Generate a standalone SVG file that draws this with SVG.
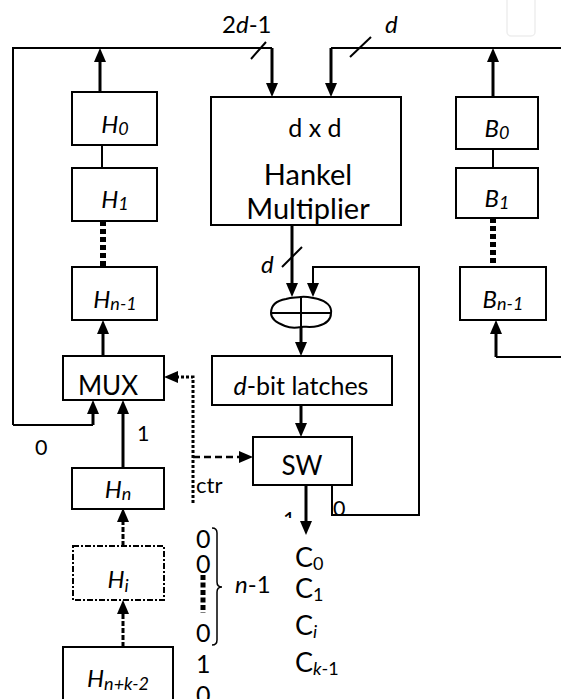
<svg xmlns="http://www.w3.org/2000/svg" width="561" height="699" viewBox="0 0 561 699">
<defs>
<marker id="ah" markerUnits="userSpaceOnUse" markerWidth="14" markerHeight="12" viewBox="0 0 14 12" refX="4" refY="6" orient="auto"><path d="M0,0 L14,6 L0,12 z" fill="#000"/></marker>
<clipPath id="clip1"><rect x="270" y="500" width="40" height="18"/></clipPath>
<clipPath id="clipH"><rect x="212" y="98" width="188" height="126"/></clipPath>
</defs>
<style>
.box{fill:#fff;stroke:#000;stroke-width:2}
.t{font-family:Lato,"Liberation Sans",sans-serif;fill:#000}
.i{font-style:italic}
.c{text-anchor:middle}
.ln{fill:none;stroke:#000;stroke-width:2}
.th{fill:none;stroke:#000;stroke-width:3}
.dot{fill:none;stroke:#000;stroke-width:6;stroke-dasharray:5 3}
.lb{font-size:24px}
.sb{font-size:18px}
</style>
<rect x="507" y="-6" width="28" height="42" rx="4" fill="none" stroke="#eeeeee" stroke-width="1.5"/>
<g id="connectors">
<path class="ln" d="M13,425 L13,48 L272,48"/>
<path class="th" d="M272,48 L272,87" marker-end="url(#ah)"/>
<path class="ln" d="M13,425 L93,425"/>
<path class="th" d="M93,425 L93,410" marker-end="url(#ah)"/>
<path class="ln" d="M331,48 L561,48"/>
<path class="th" d="M331,48 L331,87" marker-end="url(#ah)"/>
<path class="th" d="M100,92 L100,58" marker-end="url(#ah)"/>
<path class="th" d="M493,97 L493,58" marker-end="url(#ah)"/>
<path class="ln" d="M251,59 L266,42"/>
<path class="ln" d="M350,57 L371,37"/>
<path class="ln" d="M102,145 L102,168" stroke-width="1.5"/>
<path class="ln" d="M493,149 L493,168" stroke-width="1.5"/>
<path class="dot" d="M103,221 L103,267"/>
<path class="dot" d="M493,218 L493,267"/>
<path class="th" d="M103,356 L103,330" marker-end="url(#ah)"/>
<path class="th" d="M123,468 L123,410" marker-end="url(#ah)"/>
<path class="th" d="M123,546 L123,518" stroke-width="5" stroke-dasharray="5 2" marker-end="url(#ah)"/>
<path class="th" d="M123,647 L123,610" stroke-width="5" stroke-dasharray="5 2" marker-end="url(#ah)"/>
<path fill="none" stroke="#000" stroke-width="3" stroke-dasharray="3 2" d="M193,503 L193,377 L174,377" marker-end="url(#ah)"/>
<path fill="none" stroke="#000" stroke-width="2.5" stroke-dasharray="7 4" d="M193,457 L243,457" marker-end="url(#ah)"/>
<path class="th" d="M292,225 L292,287" marker-end="url(#ah)"/>
<path class="ln" d="M282,267 L302,247"/>
<path class="ln" d="M332,485 L332,515 L419,515 L419,267 L313,267 L313,287" marker-end="url(#ah)"/>
<path class="th" d="M301,327 L301,346" marker-end="url(#ah)"/>
<path class="th" d="M301,405 L301,427" marker-end="url(#ah)"/>
<path class="th" d="M306,485 L306,525" marker-end="url(#ah)"/>
<path class="ln" d="M561,357 L496,357"/>
<path class="th" d="M496,357 L496,330" marker-end="url(#ah)"/>
<path fill="none" stroke="#000" stroke-width="5" stroke-dasharray="5 2.5" d="M203,575 L203,613"/>
<path fill="none" stroke="#000" stroke-width="1.5" d="M212,528 Q217,528 217,533 L217,582 Q217,587 222,587 Q217,587 217,592 L217,640 Q217,645 212,645"/>
</g>
<g id="adder">
<path fill="#fff" stroke="#000" stroke-width="2" d="M271,313 C271,303 280,300 286,299 C292,297 296,298 301,297 C306,296 312,298 318,299 C326,301 332,306 331,313 C331,320 326,324 318,326 C310,328 304,326 301,327 C296,328 290,328 285,326 C277,323 271,319 271,313 Z"/>
<path class="ln" d="M271,313 L331,313 M301,297 L301,327"/>
</g>
<g id="H0"><rect class="box" x="72" y="92" width="85" height="53"/><text class="t i c lb" x="115" y="133">H<tspan class="sb" dy="2">0</tspan></text></g>
<g id="H1"><rect class="box" x="72" y="168" width="85" height="53"/><text class="t i c lb" x="115" y="208">H<tspan class="sb" dy="2">1</tspan></text></g>
<g id="Hn-1"><rect class="box" x="72" y="267" width="85" height="53"/><text class="t i c lb" x="115" y="308">H<tspan class="sb" dy="2">n-1</tspan></text></g>
<g id="MUX"><rect class="box" x="63" y="356" width="101" height="44"/><text class="t c" x="108" y="395" font-size="26">MUX</text></g>
<g id="Hn"><rect class="box" x="72" y="468" width="92" height="41"/><text class="t i c lb" x="118" y="498">H<tspan class="sb" dy="2">n</tspan></text></g>
<g id="Hi"><rect class="box" x="73" y="546" width="91" height="54" stroke-dasharray="6 2 2 2" stroke-width="2.5"/><text class="t i c lb" x="118" y="588">H<tspan class="sb" dy="4">i</tspan></text></g>
<g id="Hn+k-2"><rect class="box" x="63" y="647" width="110" height="60"/><text class="t i c lb" x="118" y="687">H<tspan class="sb" dy="3">n+k-2</tspan></text></g>
<g id="Hankel"><rect class="box" x="211" y="97" width="190" height="128"/>
<g clip-path="url(#clipH)"><text class="t c" x="315" y="137" font-size="25">d x d</text><text class="t c" x="308" y="185" font-size="29">Hankel</text><text class="t c" x="308" y="219" font-size="29">Multiplier</text></g></g>
<g id="latches"><rect class="box" x="212" y="356" width="180" height="49"/><text class="t c" x="301" y="395" font-size="25"><tspan class="i">d</tspan>-bit latches</text></g>
<g id="SW"><rect class="box" x="253" y="437" width="99" height="48"/><text class="t c" x="302" y="475" font-size="26">SW</text></g>
<g id="B0"><rect class="box" x="456" y="97" width="82" height="52"/><text class="t i c lb" x="497" y="137">B<tspan class="sb" dy="2">0</tspan></text></g>
<g id="B1"><rect class="box" x="456" y="168" width="82" height="50"/><text class="t i c lb" x="497" y="207">B<tspan class="sb" dy="2">1</tspan></text></g>
<g id="Bn-1"><rect class="box" x="460" y="267" width="86" height="53"/><text class="t i c lb" x="503" y="308">B<tspan class="sb" dy="2">n-1</tspan></text></g>
<g id="labels">
<text class="t" x="222" y="33" font-size="24">2<tspan class="i">d</tspan>-1</text>
<text class="t i" x="385" y="33" font-size="24">d</text>
<text class="t i" x="261" y="273" font-size="24">d</text>
<text class="t" x="35" y="455" font-size="21.5">0</text>
<text class="t" x="137" y="441" font-size="21.5">1</text>
<text class="t" x="196" y="493" font-size="22">ctr</text>
<text class="t" x="333" y="516" font-size="21.5">0</text>
<text class="t" x="283" y="527" font-size="21.5" clip-path="url(#clip1)">1</text>
<text class="t" x="196" y="548" font-size="25">0</text>
<text class="t" x="196" y="573" font-size="25">0</text>
<text class="t" x="196" y="642" font-size="25">0</text>
<text class="t" x="196" y="673" font-size="25">1</text>
<text class="t" x="196" y="704" font-size="25">0</text>
<text class="t" x="235" y="593" font-size="24"><tspan class="i">n</tspan>-1</text>
<text class="t" x="295" y="567" font-size="27">C<tspan font-size="18" dy="3">0</tspan></text>
<text class="t" x="295" y="598" font-size="27">C<tspan font-size="18" dy="3">1</tspan></text>
<text class="t" x="295" y="635" font-size="27">C<tspan font-size="18" dy="3" class="i">i</tspan></text>
<text class="t" x="295" y="672" font-size="27">C<tspan font-size="18" dy="3"><tspan class="i">k</tspan>-1</tspan></text>
</g>
</svg>
